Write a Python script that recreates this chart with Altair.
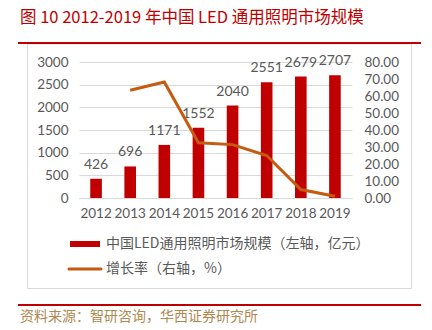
import altair as alt
import pandas as pd

# ---- data ----
years = ["2012", "2013", "2014", "2015", "2016", "2017", "2018", "2019"]
market = [426, 696, 1171, 1552, 2040, 2551, 2679, 2707]
growth = [None, 63.4, 68.2, 32.5, 31.4, 25.0, 5.0, 1.0]
left_ticks = [0, 500, 1000, 1500, 2000, 2500, 3000]
right_ticks = [0, 10, 20, 30, 40, 50, 60, 70, 80]
title_text = "图 10 2012-2019 年中国 LED 通用照明市场规模"
legend_labels = ["中国LED通用照明市场规模（左轴，亿元）", "增长率（右轴，%）"]
source_text = "资料来源：智研咨询，华西证券研究所"

df = pd.DataFrame({"year": years, "market": market, "growth": growth})

FONT = "Noto Sans CJK SC"
NUMFONT = "Lato"
RED = "#C00000"
ORANGE = "#C55A11"
GREY = "#595959"
GRID = "#D9D9D9"

X0, Y0 = 79, 62           # plot origin in page pixels
W, H = 273, 136


def px(v):
    return v - X0


def py(v):
    return v - Y0


xenc = alt.X(
    "year:N",
    sort=years,
    scale=alt.Scale(paddingInner=0.66, paddingOuter=0.33),
    axis=alt.Axis(title=None, labelAngle=0, ticks=False, domain=True,
                  domainColor=GRID, labelPadding=8, labelFontSize=13.5,
                  labelColor=GREY, labelFont=NUMFONT, labelOverlap=False),
)

yleft = alt.Y(
    "market:Q",
    scale=alt.Scale(domain=[0, 3000], nice=False),
    axis=alt.Axis(title=None, values=left_ticks, format="d", grid=True,
                  gridColor=GRID, gridWidth=1, domain=False, ticks=False,
                  labelPadding=11, labelFontSize=13.5, labelColor=GREY,
                  labelFont=NUMFONT, labelOverlap=False),
)

bars = alt.Chart(df).mark_bar(color=RED).encode(x=xenc, y=yleft)
labels = alt.Chart(df).mark_text(
    baseline="alphabetic", dy=-10, fontSize=14, color=GREY, font=NUMFONT
).encode(x=xenc, y=yleft, text=alt.Text("market:Q", format="d"))

left = alt.layer(bars, labels)

line = alt.Chart(df).mark_line(color=ORANGE, strokeWidth=3).encode(
    x=xenc,
    y=alt.Y(
        "growth:Q",
        scale=alt.Scale(domain=[0, 80], nice=False),
        axis=alt.Axis(title=None, orient="right", values=right_ticks,
                      format=".2f", grid=False, domain=False, ticks=False,
                      labelPadding=12, labelFontSize=13.5, labelColor=GREY,
                      labelFont=NUMFONT, labelOverlap=False),
    ),
)

one = alt.Data(values=[{}])

frame = alt.Chart(one).mark_rect(fill=None, stroke=GRID, strokeWidth=1).encode(
    x=alt.value(px(27.5)), x2=alt.value(px(411.5)),
    y=alt.value(py(44)), y2=alt.value(py(288.5)),
)
top_rule = alt.Chart(one).mark_rule(color=RED, strokeWidth=2).encode(
    x=alt.value(px(18)), x2=alt.value(px(421)), y=alt.value(py(43))
)
bottom_rule = alt.Chart(one).mark_rule(color=RED, strokeWidth=2).encode(
    x=alt.value(px(18)), x2=alt.value(px(421)), y=alt.value(py(305))
)
title = alt.Chart(one).mark_text(
    align="left", baseline="alphabetic", fontSize=16.5, color=RED, font=FONT
).encode(x=alt.value(px(20)), y=alt.value(py(23)), text=alt.value(title_text))
source = alt.Chart(one).mark_text(
    align="left", baseline="middle", fontSize=14, color="#B08850", font=FONT
).encode(x=alt.value(px(20)), y=alt.value(py(317)), text=alt.value(source_text))

leg_sw1 = alt.Chart(one).mark_rule(color=RED, strokeWidth=6).encode(
    x=alt.value(px(70)), x2=alt.value(px(100)), y=alt.value(py(244))
)
leg_sw2 = alt.Chart(one).mark_rule(color=ORANGE, strokeWidth=3, strokeCap="round").encode(
    x=alt.value(px(69)), x2=alt.value(px(101)), y=alt.value(py(269))
)
leg_t1 = alt.Chart(one).mark_text(
    align="left", baseline="middle", fontSize=14, color=GREY, font=FONT
).encode(x=alt.value(px(106)), y=alt.value(py(244)), text=alt.value(legend_labels[0]))
leg_t2 = alt.Chart(one).mark_text(
    align="left", baseline="middle", fontSize=14, color=GREY, font=FONT
).encode(x=alt.value(px(106)), y=alt.value(py(269)), text=alt.value(legend_labels[1]))

chart = alt.layer(
    frame, left, line, top_rule, bottom_rule, title, source,
    leg_sw1, leg_sw2, leg_t1, leg_t2,
).resolve_scale(y="independent").properties(
    width=W, height=H,
    autosize=alt.AutoSizeParams(type="none"),
    padding={"left": X0, "top": Y0, "right": 432 - X0 - W, "bottom": 330 - Y0 - H},
    background="white",
).configure_view(stroke=None)

chart.save("out.html", embed_options={"renderer": "svg", "actions": False})
